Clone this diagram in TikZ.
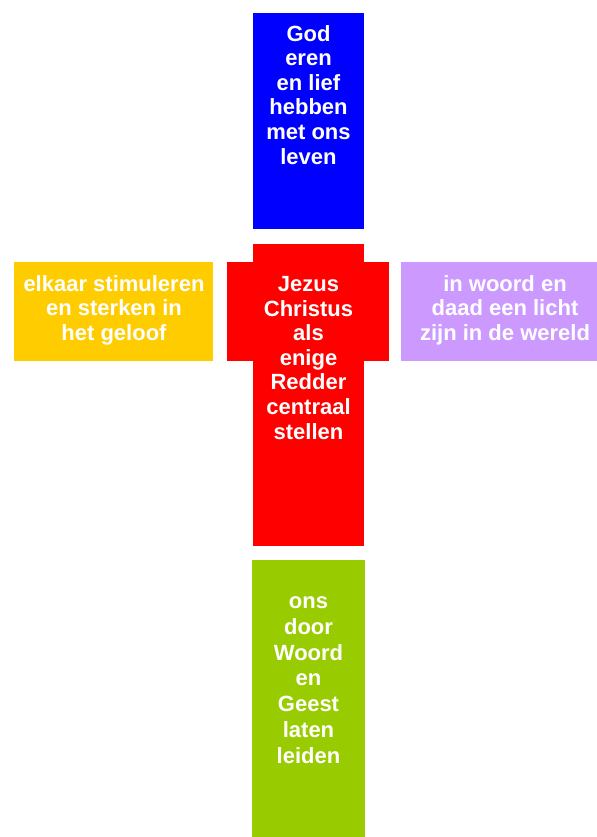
\documentclass[tikz,border=0pt]{standalone}
\usepackage{fontspec}
\setmainfont{Liberation Sans}

\begin{document}
\begin{tikzpicture}[x=0.5pt,y=-0.5pt, font=\bfseries\fontsize{11}{12.3}\selectfont]

    % Kleuren
    \definecolor{kruisblauw}{RGB}{0,0,255}
    \definecolor{kruisrood}{RGB}{255,0,0}
    \definecolor{kruisgeel}{RGB}{255,204,0}
    \definecolor{kruispaars}{RGB}{204,153,255}
    \definecolor{kruisgroen}{RGB}{153,204,0}

    % Tekst in de vlakken (anker op de laatste regel)
    \tikzset{tekst/.style={text=white, align=center, anchor=base, inner sep=0pt}}

    % Maten
    \def\L{253}
    \def\R{364}
    \def\M{308.5}

    % Beeldvlak
    \useasboundingbox (0,0) rectangle (597,837);

    % Bovenste balk
    \fill[kruisblauw] (\L,13) rectangle (\R,229);

    % Middenkruis
    \fill[kruisrood] (\L,244) rectangle (\R,546);
    \fill[kruisrood] (227,262) rectangle (389,361);

    % Linker en rechter arm
    \fill[kruisgeel] (14,262) rectangle (213,361);
    \fill[kruispaars] (401,262) rectangle (597,361);

    % Onderste balk
    \fill[kruisgroen] (252,560) rectangle (365,837);

    % Teksten
    \node[tekst] (god) at (\M,164)
        {God\\eren\\en lief\\hebben\\met ons\\leven};
    \node[tekst] (jezus) at (\M,439)
        {Jezus\\Christus\\als\\enige\\Redder\\centraal\\stellen};
    \node[tekst] (elkaar) at (114,340.5)
        {elkaar stimuleren\\en sterken in\\het geloof};
    \node[tekst] (licht) at (505,340.5)
        {in woord en\\daad een licht\\zijn in de wereld};
    \node[tekst, font=\bfseries\fontsize{11}{12.85}\selectfont] (woord) at (\M,763)
        {ons\\door\\Woord\\en\\Geest\\laten\\leiden};

\end{tikzpicture}
\end{document}
